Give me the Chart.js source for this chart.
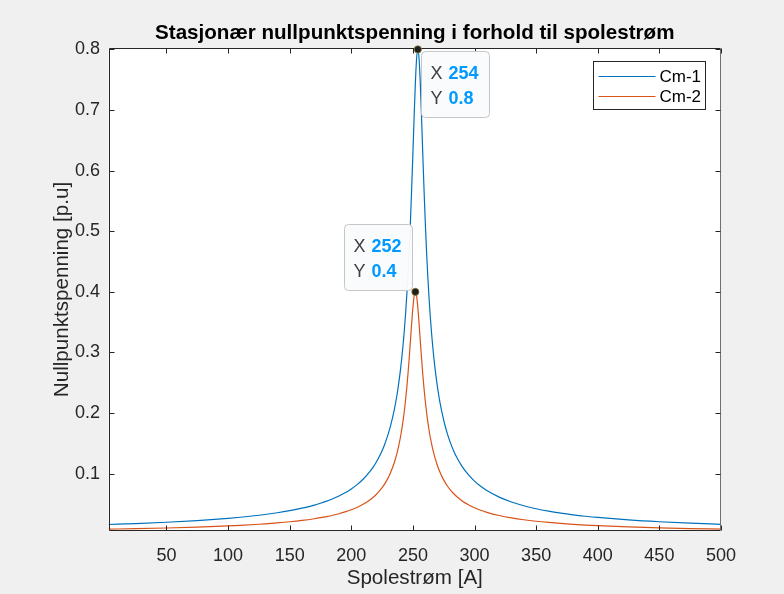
<!DOCTYPE html>
<html><head><meta charset="utf-8">
<script src="https://cdn.jsdelivr.net/npm/chart.js@4.4.0/dist/chart.umd.min.js"></script>
<style>html,body{margin:0;padding:0;background:#f0f0f0;}canvas{display:block;}</style>
</head><body>
<canvas id="c" width="784" height="594"></canvas>
<script>
const chartTitle = 'Stasjonær nullpunktspenning i forhold til spolestrøm';
const xAxisTitle = 'Spolestrøm [A]';
const yAxisTitle = 'Nullpunktspenning [p.u]';
const seriesNames = ['Cm-1', 'Cm-2'];

const cm1X = [3,25,50,75,100,110,125,130,140,150,160,170,175,180,185,190,195,200,205,210,215,218,220,222,225,227,230,232,235,237,238,240,242,243,244,245,246,247,248,249,250,251,252,253,254,255,256,257,258,259,260,261,262,263,264,265,266,267,268,270,271,272,274,276,278,280,283,286,290,295,300,305,310,320,330,340,350,360,370,380,390,400,425,450,475,500];
const cm1Y = [0.01619,0.01774,0.01992,0.02270,0.02638,0.02820,0.03148,0.03275,0.03562,0.03904,0.04317,0.04829,0.05134,0.05479,0.05874,0.06330,0.06862,0.07493,0.08248,0.09174,0.1033,0.1118,0.1182,0.1254,0.1380,0.1479,0.1657,0.1800,0.2066,0.2290,0.2421,0.2729,0.3119,0.3354,0.3623,0.3932,0.4288,0.4699,0.5169,0.5702,0.6285,0.6888,0.7444,0.7850,0.8,0.7850,0.7444,0.6888,0.6285,0.5702,0.5169,0.4699,0.4288,0.3932,0.3623,0.3354,0.3119,0.2912,0.2729,0.2421,0.2290,0.2173,0.1969,0.1800,0.1657,0.1534,0.1380,0.1254,0.1118,0.09840,0.08781,0.07929,0.07227,0.06140,0.05335,0.04717,0.04227,0.03829,0.03500,0.03223,0.02986,0.02782,0.02376,0.02073,0.01838,0.01652];

const cm2X = [3,25,50,75,100,110,125,130,140,150,160,170,175,180,185,190,195,200,205,210,215,218,220,222,225,227,230,232,235,237,238,240,242,243,244,245,246,247,248,249,250,251,252,253,254,255,256,257,258,259,260,261,262,263,264,265,266,267,268,270,272,274,276,278,280,283,286,290,295,300,305,310,320,330,340,350,360,370,380,390,400,425,450,475,500];
const cm2Y = [0.00850,0.00932,0.01048,0.01195,0.01392,0.01490,0.01665,0.01733,0.01888,0.02072,0.02297,0.02576,0.02742,0.02932,0.03150,0.03402,0.03697,0.04050,0.04475,0.05000,0.05664,0.06154,0.06527,0.06948,0.07692,0.08284,0.09355,0.1023,0.1189,0.1331,0.1414,0.1614,0.1871,0.2027,0.2207,0.2412,0.2646,0.2908,0.3191,0.3480,0.3742,0.3931,0.4,0.3931,0.3742,0.3480,0.3191,0.2908,0.2646,0.2412,0.2207,0.2027,0.1871,0.1734,0.1614,0.1508,0.1414,0.1331,0.1256,0.1128,0.1023,0.09355,0.08613,0.07977,0.07427,0.06731,0.06154,0.05515,0.04886,0.04384,0.03974,0.03635,0.03103,0.02708,0.02401,0.02157,0.01958,0.01792,0.01652,0.01533,0.01429,0.01223,0.01069,0.00949,0.00853];

const xTicks = [50,100,150,200,250,300,350,400,450,500];
const yTicks = [0.1,0.2,0.3,0.4,0.5,0.6,0.7,0.8];

const tipX = [254, 252];
const tipY = [0.8, 0.4];
const tipSide = ['right', 'left'];

const FONT = '"Liberation Sans", Arial, Helvetica, sans-serif';
const colors = ['#0072BD', '#D95319'];
const axisColor = '#262626';

const matlabPlugin = {
  id: 'matlab',
  beforeDraw(chart) {
    const {ctx, chartArea: a} = chart;
    ctx.save();
    ctx.fillStyle = '#f0f0f0';
    ctx.fillRect(0, 0, chart.width, chart.height);
    ctx.fillStyle = '#ffffff';
    ctx.fillRect(a.left, a.top, a.right - a.left, a.bottom - a.top);
    ctx.restore();
  },
  afterDatasetsDraw(chart) {
    const {ctx, chartArea: a, scales} = chart;
    const L = Math.round(a.left) + 0.5, R = Math.round(a.right) - 0.5;
    const T = Math.round(a.top) + 0.5, B = Math.round(a.bottom) - 0.5;
    ctx.save();
    ctx.lineWidth = 1;
    ctx.strokeStyle = axisColor;
    ctx.beginPath();
    ctx.moveTo(L, T); ctx.lineTo(R, T);
    ctx.moveTo(L, B); ctx.lineTo(R, B);
    ctx.moveTo(L, T); ctx.lineTo(L, B);
    ctx.stroke();
    ctx.strokeStyle = '#707070';
    ctx.beginPath(); ctx.moveTo(R, T); ctx.lineTo(R, B); ctx.stroke();
    ctx.strokeStyle = axisColor;
    ctx.beginPath();
    xTicks.forEach(v => {
      const p = Math.round(scales.x.getPixelForValue(v)) + 0.5;
      ctx.moveTo(p, B); ctx.lineTo(p, B - 5);
      ctx.moveTo(p, T); ctx.lineTo(p, T + 5);
    });
    yTicks.forEach(v => {
      const p = Math.round(scales.y.getPixelForValue(v)) + 0.5;
      ctx.moveTo(L, p); ctx.lineTo(L + 5, p);
      ctx.moveTo(R, p); ctx.lineTo(R - 5, p);
    });
    ctx.stroke();

    // legend
    const lw = 112, lh = 48;
    const lx = Math.round(a.right - 16 - lw) + 0.5, ly = Math.round(a.top + 13) + 0.5;
    ctx.fillStyle = '#ffffff';
    ctx.fillRect(lx, ly, lw, lh);
    ctx.strokeStyle = axisColor;
    ctx.strokeRect(lx, ly, lw, lh);
    chart.data.datasets.forEach((ds, i) => {
      const yy = ly + 15 + i * 20;
      ctx.strokeStyle = ds.borderColor;
      ctx.lineWidth = 1.2;
      ctx.beginPath(); ctx.moveTo(lx + 5, yy); ctx.lineTo(lx + 62, yy); ctx.stroke();
      ctx.fillStyle = '#000';
      ctx.font = '17px ' + FONT;
      ctx.textBaseline = 'middle';
      ctx.textAlign = 'left';
      ctx.fillText(ds.label, lx + 66, yy + 1);
    });
    ctx.restore();
  },
  afterDraw(chart) {
    const {ctx, scales} = chart;
    ctx.save();
    tipX.forEach((xv, i) => {
      const px = scales.x.getPixelForValue(xv);
      const py = scales.y.getPixelForValue(tipY[i]);
      const w = 68, h = 66;
      let bx, by;
      if (tipSide[i] === 'right') { bx = px + 3; by = py + 2; }
      else { bx = px - 3 - w; by = py - 2 - h; }
      bx = Math.round(bx) + 0.5; by = Math.round(by) + 0.5;
      ctx.beginPath();
      ctx.roundRect(bx, by, w, h, 4);
      ctx.fillStyle = 'rgba(250,251,253,0.97)';
      ctx.fill();
      ctx.strokeStyle = '#c6c6c6';
      ctx.lineWidth = 1;
      ctx.stroke();
      ctx.textBaseline = 'middle';
      ctx.textAlign = 'left';
      const rows = [['X', String(xv)], ['Y', String(tipY[i])]];
      rows.forEach((r, k) => {
        const ty = by + 23 + k * 24.5;
        ctx.font = '18px ' + FONT;
        ctx.fillStyle = '#404040';
        ctx.fillText(r[0], bx + 9, ty);
        ctx.font = 'bold 18px ' + FONT;
        ctx.fillStyle = '#0099FF';
        ctx.fillText(r[1], bx + 27, ty);
      });
      ctx.beginPath();
      ctx.arc(px, py, 3.6, 0, Math.PI * 2);
      ctx.fillStyle = '#1e1e1e';
      ctx.fill();
      ctx.strokeStyle = '#8a7a30';
      ctx.lineWidth = 0.8;
      ctx.stroke();
    });
    ctx.restore();
  }
};

new Chart(document.getElementById('c'), {
  type: 'line',
  data: {
    datasets: [
      { label: seriesNames[0], data: cm1X.map((x, i) => ({x, y: cm1Y[i]})), borderColor: colors[0], borderWidth: 1.2, pointRadius: 0, cubicInterpolationMode: 'monotone', fill: false },
      { label: seriesNames[1], data: cm2X.map((x, i) => ({x, y: cm2Y[i]})), borderColor: colors[1], borderWidth: 1.2, pointRadius: 0, cubicInterpolationMode: 'monotone', fill: false }
    ]
  },
  options: {
    responsive: false,
    animation: false,
    devicePixelRatio: 1,
    layout: { padding: { left: 0, right: 63, top: 0, bottom: 0 } },
    plugins: {
      legend: { display: false },
      tooltip: { enabled: false },
      title: {
        display: true, text: chartTitle, fullSize: false, color: '#000',
        font: { family: FONT, size: 20.6, weight: 'bold', lineHeight: 1.2 },
        padding: { top: 21, bottom: 2.3 }
      }
    },
    scales: {
      x: {
        type: 'linear', min: 3, max: 500,
        grid: { display: false, drawTicks: false }, border: { display: false },
        afterBuildTicks: s => { s.ticks = xTicks.map(v => ({value: v})); },
        afterFit: s => { s.height = 63; },
        ticks: { color: axisColor, font: { family: FONT, size: 18 }, padding: 14, maxRotation: 0, autoSkip: false, callback: v => String(v) },
        title: { display: true, text: xAxisTitle, color: axisColor, font: { family: FONT, size: 20.6, lineHeight: 1.2 }, padding: { top: 0, bottom: 3.6 } }
      },
      y: {
        type: 'linear', min: 0.0055, max: 0.8023,
        grid: { display: false, drawTicks: false }, border: { display: false },
        afterBuildTicks: s => { s.ticks = yTicks.map(v => ({value: v})); },
        afterFit: s => { s.width = 108.5; },
        ticks: { color: axisColor, font: { family: FONT, size: 18 }, padding: 8.5, autoSkip: false, callback: v => String(v) },
        title: { display: true, text: yAxisTitle, color: axisColor, font: { family: FONT, size: 20.6, lineHeight: 1.2 }, padding: { top: 49.6, bottom: 0 } }
      }
    }
  },
  plugins: [matlabPlugin]
});
</script>
</body></html>
